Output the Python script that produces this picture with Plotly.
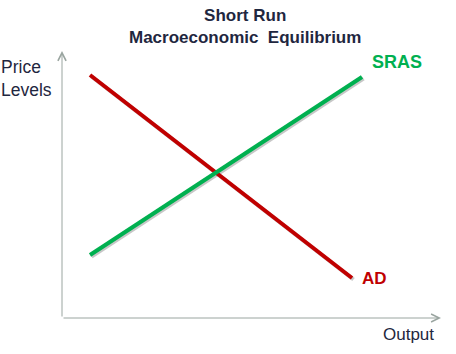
import plotly.graph_objects as go

# Data (output units, price-level units); axis origin at (0, 0)
ad_output = [2.8, 29.0]
ad_price = [24.3, 4.0]
sras_output = [2.8, 30.0]
sras_price = [6.3, 24.1]

title_lines = ["Short Run", "Macroeconomic  Equilibrium"]
ad_label = "AD"
sras_label = "SRAS"
x_title = "Output"
y_title = "Price<br>Levels"

RED = "#c00000"
GREEN = "#00b050"
AXIS = "#9aa5a0"
TEXT = "#1f2740"
FONT = "Liberation Sans, Arial"

fig = go.Figure()

# subtle shadows
sh = 0.15
for xs, ys in [(ad_output, ad_price), (sras_output, sras_price)]:
    fig.add_trace(go.Scatter(x=[v + sh for v in xs], y=[v - sh for v in ys], mode="lines",
                             line=dict(color="rgba(0,0,0,0.22)", width=4),
                             hoverinfo="skip", showlegend=False))

fig.add_trace(go.Scatter(x=ad_output, y=ad_price, mode="lines",
                         line=dict(color=RED, width=4), showlegend=False))
fig.add_trace(go.Scatter(x=sras_output, y=sras_price, mode="lines",
                         line=dict(color=GREEN, width=4), showlegend=False))

# axes with arrows
fig.add_annotation(x=0, y=26.7, ax=0, ay=0, xref="x", yref="y", axref="x", ayref="y",
                   showarrow=True, arrowhead=5, arrowsize=1.6, arrowwidth=1, arrowcolor=AXIS, text="")
fig.add_annotation(x=37.9, y=0, ax=0, ay=0, xref="x", yref="y", axref="x", ayref="y",
                   showarrow=True, arrowhead=5, arrowsize=1.6, arrowwidth=1, arrowcolor=AXIS, text="")

# labels
fig.add_annotation(x=33.5, y=25.65, text=f"<b>{sras_label}</b>",
                   showarrow=False, font=dict(family=FONT, size=18, color=GREEN))
fig.add_annotation(x=31.25, y=4.0, text=f"<b>{ad_label}</b>",
                   showarrow=False, font=dict(family=FONT, size=17, color=RED))
fig.add_annotation(x=34.6, y=-1.6, text=x_title, showarrow=False,
                   font=dict(family=FONT, size=17, color=TEXT))
fig.add_annotation(x=-3.6, y=24.0, text=y_title, showarrow=False, align="left",
                   font=dict(family=FONT, size=17.5, color=TEXT))
fig.add_annotation(x=18.25, y=29.15, text=f"<b>{title_lines[0]}</b><br><b>{title_lines[1]}</b>",
                   showarrow=False, align="center",
                   font=dict(family=FONT, size=17, color=TEXT))

fig.update_layout(
    width=456, height=354, margin=dict(l=0, r=0, t=0, b=0),
    paper_bgcolor="white", plot_bgcolor="white",
    xaxis=dict(range=[-6.2, 39.4], visible=False, fixedrange=True),
    yaxis=dict(range=[-3.6, 31.8], visible=False, fixedrange=True),
)

fig.write_html("out.html")
